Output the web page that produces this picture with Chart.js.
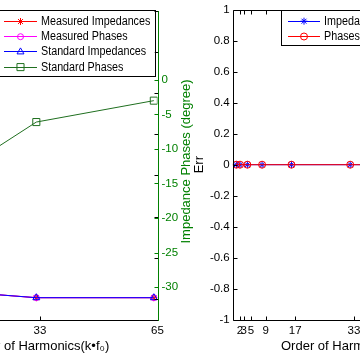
<!DOCTYPE html>
<html><head><meta charset="utf-8">
<script src="https://cdn.jsdelivr.net/npm/chart.js@4.4.0/dist/chart.umd.min.js"></script>
<style>
html,body{margin:0;padding:0;background:#fff;width:360px;height:360px;overflow:hidden;position:relative;}
canvas{position:absolute;top:0;}
#c1{left:-120px;}
#c2{left:180px;}
</style></head><body>
<canvas id="c1" width="330" height="360" style="width:330px;height:360px"></canvas>
<canvas id="c2" width="302" height="360" style="width:302px;height:360px"></canvas>
<script>
// ---- data ----
const harmonics = [1, 2, 4, 8, 16, 32, 64];
const xTickValues = [2, 3, 5, 9, 17, 33, 65];
const measuredImpedances = [3.2, 1.6, 0.8, 0.35, 0.14, 0.03, 0.03];
const measuredPhases = [3.2, 1.6, 0.8, 0.35, 0.14, 0.03, 0.03];
const standardImpedances = [3.2, 1.6, 0.8, 0.35, 0.14, 0.03, 0.03];
const standardPhases = [-30, -27, -23, -17.5, -11.6, -6.1, -3.0];
const impedanceTickValues = [0, 1, 2, 3, 4, 5, 6, 7];
const phaseTickValues = [-30, -25, -20, -15, -10, -5, 0];
const errImpedances = [0, 0, 0, 0, 0, 0, 0];
const errPhases = [0, 0, 0, 0, 0, 0, 0];
const errTickValues = [-1, -0.8, -0.6, -0.4, -0.2, 0, 0.2, 0.4, 0.6, 0.8, 1];

const FONT = "'Liberation Sans', Arial, Helvetica, sans-serif";
const GREEN = '#008000';
const PHASE_LINE = '#1f6f1f';
const XTITLE = 'Order of Harmonics(k\u2022f\u2080)';

function pts(ys) { return harmonics.map((x, i) => ({x: x, y: ys[i]})); }
function setTicks(vals) { return s => { s.ticks = vals.map(v => ({value: v})); }; }
function crisp(v) { return Math.round(v) + 0.5; }

const boxPlugin = {
  id: 'matlabBox',
  afterDatasetsDraw(chart, args, o) {
    const ctx = chart.ctx, a = chart.chartArea;
    const L = crisp(a.left), R = crisp(a.right), T = crisp(a.top), B = crisp(a.bottom);
    const TL = 4;
    ctx.save();
    ctx.lineWidth = 1;
    ctx.strokeStyle = '#000';
    ctx.beginPath();
    ctx.moveTo(L, T); ctx.lineTo(R, T);
    ctx.moveTo(L, B); ctx.lineTo(R, B);
    ctx.moveTo(L, T); ctx.lineTo(L, B);
    if (!o.rightColor) { ctx.moveTo(R, T); ctx.lineTo(R, B); }
    chart.scales.x.ticks.forEach(t => {
      const p = crisp(chart.scales.x.getPixelForValue(t.value));
      ctx.moveTo(p, B); ctx.lineTo(p, B - TL);
      ctx.moveTo(p, T); ctx.lineTo(p, T + TL);
    });
    chart.scales.y.ticks.forEach(t => {
      const p = crisp(chart.scales.y.getPixelForValue(t.value));
      ctx.moveTo(L, p); ctx.lineTo(L + TL, p);
      ctx.moveTo(R, p); ctx.lineTo(R - TL, p);
    });
    ctx.stroke();
    if (o.rightColor && chart.scales.y2) {
      ctx.strokeStyle = o.rightColor;
      ctx.beginPath();
      ctx.moveTo(R, T - 0.5); ctx.lineTo(R, B + 0.5);
      chart.scales.y2.ticks.forEach(t => {
        const p = crisp(chart.scales.y2.getPixelForValue(t.value));
        ctx.moveTo(R, p); ctx.lineTo(R - TL, p);
      });
      ctx.stroke();
    }
    ctx.restore();
  }
};

const legendPlugin = {
  id: 'matlabLegend',
  afterDraw(chart, args, o) {
    const ctx = chart.ctx;
    ctx.save();
    ctx.fillStyle = '#fff';
    ctx.fillRect(o.left, o.top, o.right - o.left, o.bottom - o.top);
    ctx.strokeStyle = '#000';
    ctx.lineWidth = 1;
    ctx.strokeRect(crisp(o.left), crisp(o.top), Math.round(o.right - o.left), Math.round(o.bottom - o.top));
    chart.data.datasets.forEach((ds, i) => {
      const y = o.rows[i];
      ctx.strokeStyle = ds.borderColor;
      ctx.lineWidth = 1;
      ctx.beginPath();
      ctx.moveTo(o.lineFrom, crisp(y)); ctx.lineTo(o.lineTo, crisp(y));
      ctx.stroke();
      ctx.fillStyle = 'rgba(0,0,0,0)';
      Chart.helpers.drawPoint(ctx, {pointStyle: ds.pointStyle, radius: ds.pointRadius, borderWidth: 1, rotation: 0},
        (o.lineFrom + o.lineTo) / 2, y + 0.5);
      ctx.save();
      ctx.fillStyle = '#000';
      ctx.font = o.font;
      ctx.textBaseline = 'middle';
      ctx.textAlign = 'left';
      ctx.translate(o.textX, y + 0.5);
      ctx.scale(o.squeeze, 1);
      ctx.fillText(ds.label, 0, 0);
      ctx.restore();
    });
    ctx.restore();
  }
};

const sideTitlePlugin = {
  id: 'sideTitle',
  afterDraw(chart, args, o) {
    const ctx = chart.ctx;
    ctx.save();
    ctx.translate(o.x, o.y);
    ctx.rotate(-Math.PI / 2);
    ctx.fillStyle = o.color;
    ctx.font = o.font;
    ctx.textAlign = 'center';
    ctx.textBaseline = 'middle';
    ctx.fillText(o.text, 0, 0);
    ctx.restore();
  }
};

const tickFont = {family: FONT, size: 11.5};
const titleFont = {family: FONT, size: 13};

function common() {
  return {
    responsive: false,
    animation: false,
    events: [],
    elements: {
      line: {borderWidth: 1, tension: 0, fill: false},
      point: {borderWidth: 1, backgroundColor: 'rgba(0,0,0,0)', hoverRadius: 3}
    }
  };
}

function xScale(min, max) {
  return {
    type: 'linear', min: min, max: max,
    grid: {display: false, drawTicks: false},
    border: {display: false},
    afterBuildTicks: setTicks(xTickValues),
    ticks: {autoSkip: false, maxRotation: 0, minRotation: 0, padding: 4, color: '#000', font: tickFont,
            callback: v => String(v)},
    title: {display: true, text: XTITLE, color: '#000', font: titleFont, padding: {top: 2, bottom: 6}},
    afterFit: s => { s.height = 40.5; }
  };
}

// ---- left chart ----
const c1 = common();
new Chart(document.getElementById('c1'), {
  type: 'line',
  data: {datasets: [
    {label: 'Measured Impedances', data: pts(measuredImpedances), yAxisID: 'y', borderColor: '#ff0000',
     pointBorderColor: '#ff0000', pointBackgroundColor: 'rgba(0,0,0,0)', pointStyle: 'star', pointRadius: 3.5, order: 3},
    {label: 'Measured Phases', data: pts(measuredPhases), yAxisID: 'y', borderColor: '#ff00ff',
     pointBorderColor: '#ff00ff', pointBackgroundColor: 'rgba(0,0,0,0)', pointStyle: 'circle', pointRadius: 3, order: 2},
    {label: 'Standard Impedances', data: pts(standardImpedances), yAxisID: 'y', borderColor: '#0000ff',
     pointBorderColor: '#0000ff', pointBackgroundColor: 'rgba(0,0,0,0)', pointStyle: 'triangle', pointRadius: 4, order: 1},
    {label: 'Standard Phases', data: pts(standardPhases), yAxisID: 'y2', borderColor: PHASE_LINE,
     pointBorderColor: PHASE_LINE, pointBackgroundColor: 'rgba(0,0,0,0)', pointStyle: 'rect', pointRadius: 5, order: 0}
  ]},
  options: Object.assign(c1, {
    layout: {padding: {top: 5, left: 0, right: 0, bottom: 0}},
    plugins: {
      legend: {display: false}, tooltip: {enabled: false},
      matlabBox: {rightColor: GREEN},
      matlabLegend: {left: 117, right: 274.5, top: 10, bottom: 75.5, rows: [21, 36.2, 51.4, 66.6],
                     lineFrom: 124, lineTo: 157, textX: 161, font: '12.5px ' + FONT, squeeze: 0.86},
      sideTitle: {x: 306, y: 161.5, text: 'Impedance Phases (degree)', color: GREEN, font: '13px ' + FONT}
    },
    scales: {
      x: xScale(0, 65),
      y: {position: 'left', min: -0.5, max: 7,
          afterBuildTicks: setTicks(impedanceTickValues),
          ticks: {display: false}, grid: {display: false, drawTicks: false}, border: {display: false},
          afterFit: s => { s.width = 38.8; }},
      y2: {position: 'right', min: -34.7, max: 10,
           afterBuildTicks: setTicks(phaseTickValues),
           ticks: {color: GREEN, padding: 4, font: tickFont, callback: v => String(v)},
           grid: {display: false, drawTicks: false}, border: {display: false},
           afterFit: s => { s.width = 52.5; }}
    }
  }),
  plugins: [boxPlugin, legendPlugin, sideTitlePlugin]
});

// ---- right chart ----
const c2 = common();
new Chart(document.getElementById('c2'), {
  type: 'line',
  data: {datasets: [
    {label: 'Impedances', data: pts(errImpedances), borderColor: '#0000ff',
     pointBorderColor: '#0000ff', pointBackgroundColor: 'rgba(0,0,0,0)', pointStyle: 'star', pointRadius: 3.5, order: 1},
    {label: 'Phases', data: pts(errPhases), borderColor: '#ff0000',
     pointBorderColor: '#ff0000', pointBackgroundColor: 'rgba(0,0,0,0)', pointStyle: 'circle', pointRadius: 3.5, order: 0}
  ]},
  options: Object.assign(c2, {
    layout: {padding: {top: 5, left: 0, right: 10.6, bottom: 0}},
    plugins: {
      legend: {display: false}, tooltip: {enabled: false},
      matlabBox: {},
      matlabLegend: {left: 101, right: 215, top: 10, bottom: 45, rows: [20.7, 36],
                     lineFrom: 108, lineTo: 140, textX: 144, font: '12.5px ' + FONT, squeeze: 0.86}
    },
    scales: {
      x: xScale(0, 65),
      y: {position: 'left', min: -1, max: 1,
          afterBuildTicks: setTicks(errTickValues),
          ticks: {color: '#000', padding: 3, font: tickFont, callback: v => String(Math.round(v * 10) / 10)},
          grid: {display: false, drawTicks: false}, border: {display: false},
          title: {display: true, text: 'Err', color: '#000', font: titleFont, padding: {top: 11.2, bottom: 0}},
          afterFit: s => { s.width = 52.7; }}
    }
  }),
  plugins: [boxPlugin, legendPlugin]
});
</script>
</body></html>
